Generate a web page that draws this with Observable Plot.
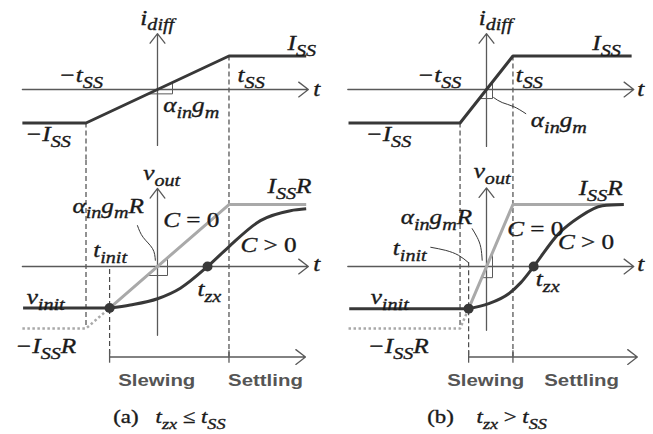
<!DOCTYPE html>
<html>
<head>
<meta charset="utf-8">
<script src="https://cdn.jsdelivr.net/npm/d3@7"></script>
<script src="https://cdn.jsdelivr.net/npm/@observablehq/plot@0.6"></script>
<style>
  body { margin: 0; background: #fff; }
  #fig { position: relative; width: 653px; height: 434px; overflow: hidden; }
  #fig svg { position: absolute; }
</style>
</head>
<body>
<div id="fig"></div>
<script>
// Time is measured in units of t_SS for case (a); i_diff in units of I_SS, v_out in units of I_SS·R.
const tSS   = {a: 1,     b: 0.37};
const tInit = {a: -0.67, b: -0.25};
const vInit = {a: -0.67, b: -0.68};
const tZx   = {a: 0.70,  b: 0.66};

// Extents of the drawn axes and traces
const tAxis = {a: [-1.89, 2.11], b: [-1.94, 2.06]};
const iAxis = {a: [-1.67, 1.67], b: [-1.70, 1.67]};
const vAxis = {a: [-1.11, 1.26], b: [-1.03, 1.27]};
const traceStart = {a: -1.89, b: -1.93};
const idiffEnd   = {a: 2.08,  b: 2.03};
const voutEnd    = {a: 2.08,  b: 1.92};
const timelineEnd = {a: 2.07, b: 2.11};
const timelineLevel = -1.46;

// Output with load capacitance (C > 0)
const vSettleA = [[-0.67, -0.67], [-0.38, -0.62], [0, -0.52], [0.32, -0.35], [0.70, 0],
                  [0.99, 0.31], [1.44, 0.74], [1.86, 0.90], [2.08, 0.93]];
const vSettleB = [[-0.25, -0.68], [0.03, -0.60], [0.31, -0.44], [0.48, -0.26], [0.66, 0],
                  [1.01, 0.53], [1.29, 0.79], [1.62, 0.98], [1.92, 1.00]];

// Slope markers and leader lines
const slopeTop = {a: [[-0.13, -0.13], [0.21, -0.13], [0.21, 0.21]],
                  b: [[-0.10, -0.27], [0.084, -0.27], [0.084, 0.23]]};
const slopeBottom = {a: [[-0.145, -0.145], [0.14, -0.145], [0.14, 0.14]],
                     b: [[-0.066, -0.18], [0.084, -0.18], [0.084, 0.23]]};
const leadersTop = {a: [],
                    b: [[[0.10, -0.24], [0.22, -0.39], [0.38, -0.51], [0.55, -0.72]]]};
const leadersBottom = {a: [[[-0.28, 0.66], [-0.20, 0.47], [-0.07, 0.29], [-0.03, 0.10]]],
                       b: [[[-0.78, 0.31], [-0.57, 0.26], [-0.39, 0.18], [-0.25, 0.06]],
                           [[-0.20, 0.61], [-0.13, 0.47], [-0.08, 0.31], [-0.06, 0.10]]]};

// Text (x_{sub} = subscript, [..] = upright)
const topLabels = ["i_{diff}", "t", "−t_{SS}", "t_{SS}", "I_{SS}", "−I_{SS}", "α_{in}g_{m}"];
const bottomLabels = ["v_{out}", "t", "I_{SS}R", "α_{in}g_{m}R", "C[ = 0]", "C[ > 0]",
                      "t_{init}", "t_{zx}", "v_{init}", "−I_{SS}R"];
const phaseLabels = ["Slewing", "Settling"];
const captions = {a: "[(a)\u00a0\u00a0 ]t_{zx}[ ≤ ]t_{SS}", b: "[(b)\u00a0\u00a0\u00a0 ]t_{zx}[ > ]t_{SS}"};

// Label anchors [t, value] (baseline, left edge)
const topPlace = {
  a: [[-0.24, 1.94], [2.18, -0.18], [-1.38, 0.22], [1.12, 0.22], [1.82, 1.19], [-1.85, -1.54], [0.08, -0.66]],
  b: [[-0.11, 1.94], [2.11, -0.18], [-0.97, 0.22], [0.41, 0.22], [1.48, 1.19], [-1.69, -1.55], [0.62, -1.13]]
};
const bottomPlace = {
  a: [[-0.20, 1.39], [2.18, -0.08], [1.54, 1.18], [-1.19, 0.87], [0.08, 0.63], [1.16, 0.23],
      [-0.90, 0.15], [0.56, -0.47], [-1.83, -0.60], [-1.99, -1.39]],
  b: [[-0.18, 1.42], [2.11, -0.08], [1.29, 1.15], [-1.20, 0.69], [0.29, 0.50], [1.00, 0.29],
      [-1.31, 0.18], [0.69, -0.31], [-1.62, -0.60], [-1.66, -1.39]]
};
const phasePlace = {a: [-0.01, 1.51], b: [-0.01, 1.33]};
const phaseLevel = -1.92;
const captionPlace = {a: -0.62, b: -0.83};
const captionLevel = -2.53;

// Styling
const DARK = "#383838", GRAY = "#a9a9a9", AXIS = "#595959", DASH = "#4a4a4a", INK = "#1a1a1a";
const SERIF = "'Liberation Serif', 'Times New Roman', serif";
const SANS = "'Liberation Sans', Arial, sans-serif";
const STRETCH = 1.2;

const COL_W = 326, TOP_H = 160, BOT_H = 274;
const colLeft = {a: 0, b: 327};
const xDomain = {a: [-2.196, 2.364], b: [-2.224, 2.336]};
const topY = [-2.119, 2.657];
const botY = [-2.71, 1.71];

const arrowStyle = {x1: "x1", y1: "y1", x2: "x2", y2: "y2", stroke: AXIS, strokeWidth: 1.3,
                    headLength: 14, headAngle: 75};
const dashStyle = {stroke: DASH, strokeWidth: 1.2, strokeDasharray: "5,3"};
const mathText = {x: "t", y: "v", text: "s", textAnchor: "start", lineAnchor: "bottom",
                  fontFamily: SERIF, fontStyle: "italic", fontSize: 21, fill: INK,
                  stroke: INK, strokeWidth: 0.35};

function place(labels, spots) {
  return labels.map((s, i) => ({s, t: spots[i][0], v: spots[i][1]}));
}

function topPanel(c) {
  const idiff = [[traceStart[c], -1], [-tSS[c], -1], [tSS[c], 1], [idiffEnd[c], 1]];
  const axes = [
    {x1: tAxis[c][0], y1: 0, x2: tAxis[c][1], y2: 0},
    {x1: 0, y1: iAxis[c][0], x2: 0, y2: iAxis[c][1]}
  ];
  const dashes = [{t: -tSS[c], from: -1}, {t: tSS[c], from: 1}];
  return Plot.plot({
    width: COL_W, height: TOP_H, margin: 0,
    style: {background: "transparent", overflow: "visible"},
    x: {domain: xDomain[c], range: [0, COL_W], axis: null},
    y: {domain: topY, range: [TOP_H, 0], axis: null},
    marks: [
      Plot.ruleX(dashes, {x: "t", y1: "from", y2: () => topY[0], ...dashStyle}),
      Plot.arrow(axes, arrowStyle),
      Plot.line(slopeTop[c], {stroke: AXIS, strokeWidth: 1}),
      ...leadersTop[c].map(l => Plot.line(l, {stroke: DARK, strokeWidth: 1, curve: "natural"})),
      Plot.line(idiff, {stroke: DARK, strokeWidth: 3, strokeLinecap: "butt"}),
      Plot.text(place(topLabels, topPlace[c]), mathText)
    ]
  });
}

function bottomPanel(c) {
  const rampStart = [[traceStart[c], -1], [-tSS[c], -1], [tInit[c], vInit[c]]];
  const ideal = [[tInit[c], vInit[c]], [tSS[c], 1], [voutEnd[c], 1]];
  const hold = [[traceStart[c] + 0.01, vInit[c]], [tInit[c], vInit[c]]];
  const settle = c === "a" ? vSettleA : vSettleB;
  const axes = [
    {x1: tAxis[c][0], y1: 0, x2: tAxis[c][1], y2: 0},
    {x1: 0, y1: vAxis[c][0], x2: 0, y2: vAxis[c][1]},
    {x1: tInit[c], y1: timelineLevel, x2: timelineEnd[c], y2: timelineLevel}
  ];
  const dashes = [
    {t: -tSS[c], from: botY[1], to: -1},
    {t: tSS[c], from: botY[1], to: timelineLevel},
    {t: tInit[c], from: c === "a" ? -0.05 : 0.06, to: timelineLevel}
  ];
  const ticks = [tInit[c], tSS[c]];
  const points = [[tInit[c], vInit[c]], [tZx[c], 0]];
  const phases = phaseLabels.map((s, i) => ({s, t: phasePlace[c][i], v: phaseLevel}));
  return Plot.plot({
    width: COL_W, height: BOT_H, margin: 0,
    style: {background: "transparent", overflow: "visible"},
    x: {domain: xDomain[c], range: [0, COL_W], axis: null},
    y: {domain: botY, range: [BOT_H, 0], axis: null},
    marks: [
      Plot.ruleX(dashes, {x: "t", y1: "from", y2: "to", ...dashStyle}),
      Plot.arrow(axes, arrowStyle),
      Plot.ruleX(ticks, {x: d => d, y1: timelineLevel - 0.1, y2: timelineLevel + 0.1, stroke: AXIS, strokeWidth: 1.3}),
      Plot.line(slopeBottom[c], {stroke: AXIS, strokeWidth: 1}),
      ...leadersBottom[c].map(l => Plot.line(l, {stroke: DARK, strokeWidth: 1, curve: "natural"})),
      Plot.line(rampStart, {stroke: GRAY, strokeWidth: 2.5, strokeDasharray: "2.5,2.5", strokeLinecap: "butt"}),
      Plot.line(ideal, {stroke: GRAY, strokeWidth: 3, strokeLinecap: "butt"}),
      Plot.line(hold, {stroke: DARK, strokeWidth: 3, strokeLinecap: "butt"}),
      Plot.line(settle, {stroke: DARK, strokeWidth: 3, curve: "monotone-x", strokeLinecap: "butt"}),
      Plot.dot(points, {r: 5, fill: DARK}),
      Plot.text(place(bottomLabels, bottomPlace[c]), mathText),
      Plot.text(phases, {x: "t", y: "v", text: "s", textAnchor: "middle", lineAnchor: "bottom",
                         fontFamily: SANS, fontWeight: "bold", fontSize: 17, fill: "#555"}),
      Plot.text([{s: captions[c], t: captionPlace[c], v: captionLevel}],
                {...mathText, fontSize: 19})
    ]
  });
}

// Turn the small markup into tspans and widen the type a little
function setType(svg) {
  const NS = "http://www.w3.org/2000/svg";
  for (const el of svg.querySelectorAll("text")) {
    const src = el.textContent;
    const size = parseFloat(getComputedStyle(el).fontSize);
    const parts = [...src.matchAll(/_\{([^}]*)\}|\[([^\]]*)\]|([^_\[]+)/g)];
    if (parts.length > 1 || parts[0][3] === undefined) {
      const shift = size * 0.28;
      let lowered = false;
      el.textContent = "";
      for (const m of parts) {
        const ts = document.createElementNS(NS, "tspan");
        if (m[1] !== undefined) {
          ts.textContent = m[1];
          ts.setAttribute("font-size", size * 0.8);
          if (!lowered) { ts.setAttribute("dy", shift); lowered = true; }
        } else {
          ts.textContent = m[2] !== undefined ? m[2] : m[3];
          if (m[2] !== undefined) ts.setAttribute("font-style", "normal");
          if (lowered) { ts.setAttribute("dy", -shift); lowered = false; }
        }
        el.appendChild(ts);
      }
    }
    const w = el.getComputedTextLength();
    el.setAttribute("textLength", w * STRETCH);
    el.setAttribute("lengthAdjust", "spacingAndGlyphs");
  }
}

const fig = document.getElementById("fig");
for (const c of ["a", "b"]) {
  const top = topPanel(c);
  top.style.left = colLeft[c] + "px";
  top.style.top = "0px";
  fig.appendChild(top);
  setType(top);
  const bottom = bottomPanel(c);
  bottom.style.left = colLeft[c] + "px";
  bottom.style.top = TOP_H + "px";
  fig.appendChild(bottom);
  setType(bottom);
}
</script>
</body>
</html>
